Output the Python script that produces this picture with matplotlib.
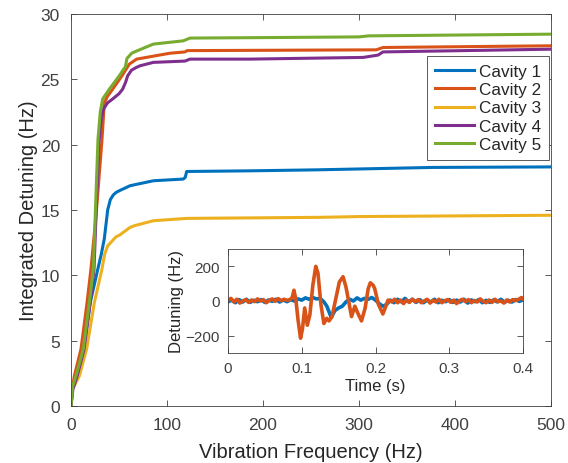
import numpy as np
from matplotlib import pyplot as plt

plt.rcParams['font.family'] = ['Liberation Sans', 'DejaVu Sans']
plt.rcParams['text.color'] = '#262626'
plt.rcParams['axes.labelcolor'] = '#262626'

# integrated detuning vs vibration frequency
f1 = [0, 1.7, 5.5, 13, 20, 28, 31.5, 34.7, 38.2, 41, 44, 47, 51, 61.5, 85.8, 117, 119, 120.5, 186.5, 259, 377, 500]
v1 = [0, 1.5, 2.3, 4.3, 7.9, 10.5, 11.6, 12.8, 15.0, 15.8, 16.15, 16.35, 16.5, 16.86, 17.24, 17.37, 17.5, 17.95, 18.0, 18.08, 18.26, 18.3]

f2 = [0, 1.7, 3.5, 10.4, 16.7, 20.8, 26, 32.3, 34.7, 38, 43.4, 53.1, 60.8, 68.4, 103, 118.7, 121, 186.5, 318, 325, 500]
v2 = [0, 1.5, 2.3, 4.36, 7.9, 10.5, 14.5, 20.4, 23.2, 23.7, 24.25, 25.27, 26.17, 26.55, 27.0, 27.1, 27.2, 27.22, 27.26, 27.44, 27.57]

f3 = [0, 1.7, 8.7, 16.3, 24.3, 32.3, 35, 38.2, 46.9, 51, 61.5, 66, 85.8, 120.5, 259, 300, 500]
v3 = [0, 1.3, 2.3, 4.36, 7.9, 10.5, 11.6, 12.26, 12.95, 13.1, 13.67, 13.8, 14.18, 14.36, 14.44, 14.5, 14.6]

f4 = [0, 2, 6, 13.5, 20, 24, 28.8, 31.5, 33.7, 38, 43.4, 50, 53.8, 57, 59, 63, 67.7, 71.9, 85.8, 118.7, 124, 186.5, 304.5, 320, 325, 500]
v4 = [0, 1.3, 2.2, 4.3, 7.9, 10.5, 20.0, 22.0, 22.7, 23.2, 23.5, 23.9, 24.25, 24.8, 25.27, 25.7, 25.9, 26.04, 26.3, 26.4, 26.55, 26.55, 26.68, 26.86, 27.1, 27.31]

f5 = [0, 1.7, 5.2, 12.8, 19.1, 23.3, 28.1, 30.5, 33, 39.9, 50.3, 55, 56.6, 58.3, 63.2, 67.7, 85.8, 117, 124, 207, 300, 310, 500]
v5 = [0, 1.5, 2.3, 4.36, 7.9, 10.5, 20.4, 22.5, 23.5, 24.25, 25.27, 25.8, 25.95, 26.6, 27.0, 27.15, 27.7, 27.95, 28.16, 28.2, 28.25, 28.33, 28.46]

labels = ['Cavity 1', 'Cavity 2', 'Cavity 3', 'Cavity 4', 'Cavity 5']
colors = ['#0072BD', '#D95319', '#EDB120', '#7E2F8E', '#77AC30']

# inset: detuning time trace
t_red = [0.000, 0.004, 0.008, 0.012, 0.016, 0.020, 0.024, 0.028, 0.032, 0.036, 0.040, 0.044, 0.048, 0.052,
         0.056, 0.060, 0.064, 0.068, 0.072, 0.076, 0.080, 0.084, 0.087, 0.0894, 0.092, 0.095, 0.0984, 0.101,
         0.104, 0.1075, 0.111, 0.115, 0.119, 0.122, 0.126, 0.130, 0.134, 0.137, 0.141, 0.146, 0.151, 0.156,
         0.160, 0.1675, 0.172, 0.176, 0.181, 0.186, 0.190, 0.193, 0.197, 0.199, 0.204, 0.210, 0.214, 0.217,
         0.222, 0.226, 0.230, 0.234, 0.238, 0.242, 0.246, 0.250, 0.254, 0.258, 0.262, 0.266, 0.270, 0.274,
         0.278, 0.282, 0.286, 0.290, 0.294, 0.298, 0.302, 0.306, 0.310, 0.314, 0.318, 0.322, 0.326, 0.330,
         0.334, 0.338, 0.342, 0.346, 0.350, 0.354, 0.358, 0.362, 0.366, 0.370, 0.374, 0.378, 0.382, 0.386,
         0.390, 0.394, 0.398, 0.400]
d_red = [5, 15, -5, 10, -12, 0, 8, -8, 6, -4, 12, 0, 8, -10,
         4, 12, -2, 14, 2, 10, 4, 8, 20, 62, 10, -110, -215, -160,
         -40, -140, -80, 90, 200, 160, -20, -130, -100, -115, -90, 10, 110, 140,
         80, -90, -30, -70, -115, -40, 70, 105, 90, 70, -20, -75, -30, 5,
         -5, 10, -10, 5, -15, 5, -8, 10, -5, 8, -10, 0, 10, -12,
         4, -6, 10, -10, 2, 8, -8, 5, -15, 2, 10, -4, 8, -10,
         3, -6, 12, -2, -10, 6, -8, 10, -4, 0, -12, 6, -6, 8,
         2, 10, 20, 12]

t_blue = [0.000, 0.005, 0.010, 0.015, 0.020, 0.025, 0.030, 0.035, 0.040, 0.045, 0.050, 0.055, 0.060, 0.065,
          0.070, 0.075, 0.080, 0.085, 0.090, 0.095, 0.100, 0.105, 0.110, 0.115, 0.120, 0.125, 0.130, 0.134,
          0.140, 0.145, 0.150, 0.155, 0.160, 0.165, 0.170, 0.175, 0.180, 0.185, 0.190, 0.195, 0.200, 0.205,
          0.210, 0.215, 0.220, 0.225, 0.230, 0.235, 0.240, 0.245, 0.250, 0.255, 0.260, 0.265, 0.270, 0.275,
          0.280, 0.285, 0.290, 0.295, 0.300, 0.305, 0.310, 0.315, 0.320, 0.325, 0.330, 0.335, 0.340, 0.345,
          0.350, 0.355, 0.360, 0.365, 0.370, 0.375, 0.380, 0.385, 0.390, 0.395, 0.400]
d_blue = [-5, 5, -10, 8, -6, 10, -8, 4, -4, 8, -8, 6, -2, 10,
          -6, 6, -4, 8, 0, 12, 5, 18, 10, 20, 12, 15, -5, -30,
          -95, -55, -40, -30, -5, 10, 0, 18, 5, 15, 10, 20, 5, -15,
          -30, -20, 5, -10, 10, -5, 15, -5, 10, -8, 8, -10, 5, -6,
          10, -10, 4, -4, 8, -8, 5, -6, 10, -12, 6, -4, 8, -10,
          4, -8, 6, -5, 10, -8, 4, -6, 8, -2, 6]

fig = plt.figure(figsize=(5.68, 4.64), dpi=100)
ax = fig.add_axes([0.125, 0.1228, 0.845, 0.8448])

for f, v, lab, c in zip([f1, f2, f3, f4, f5], [v1, v2, v3, v4, v5], labels, colors):
    ax.plot(f, v, color=c, lw=2.2, label=lab)

ax.set_xlim(0, 500)
ax.set_ylim(0, 30)
ax.set_xticks([0, 100, 200, 300, 400, 500])
ax.set_yticks([0, 5, 10, 15, 20, 25, 30])
ax.tick_params(direction='in', top=True, right=True, length=4, width=0.6, labelsize=12.5,
               colors='#404040', pad=8)
for s in ax.spines.values():
    s.set_color('#404040')
    s.set_linewidth(0.6)
ax.set_xlabel('Vibration Frequency (Hz)', fontsize=14.5, labelpad=7)
ax.set_ylabel('Integrated Detuning (Hz)', fontsize=14.5, labelpad=2)

leg = ax.legend(loc='upper right', bbox_to_anchor=(0.996, 0.893), fontsize=12.3, frameon=True,
                fancybox=False, framealpha=1, edgecolor='#404040', handlelength=2.3,
                handletextpad=0.3, labelspacing=0.2, borderpad=0.45, borderaxespad=0)
leg.get_frame().set_linewidth(0.6)

ins = fig.add_axes([0.4014, 0.2371, 0.5194, 0.2241])
ins.plot(t_blue, d_blue, color=colors[0], lw=2.6)
ins.plot(t_red, d_red, color=colors[1], lw=2.6)
ins.set_xlim(0, 0.4)
ins.set_ylim(-300, 300)
ins.set_xticks([0, 0.1, 0.2, 0.3, 0.4])
ins.set_xticklabels(['0', '0.1', '0.2', '0.3', '0.4'])
ins.set_yticks([-200, 0, 200])
ins.tick_params(direction='in', top=True, right=True, length=4, width=0.6, labelsize=11,
                colors='#404040', pad=6)
for s in ins.spines.values():
    s.set_color('#404040')
    s.set_linewidth(0.6)
ins.set_xlabel('Time (s)', fontsize=12, labelpad=2)
ins.set_ylabel('Detuning (Hz)', fontsize=12, labelpad=1)

plt.savefig('out.png', dpi=100)
